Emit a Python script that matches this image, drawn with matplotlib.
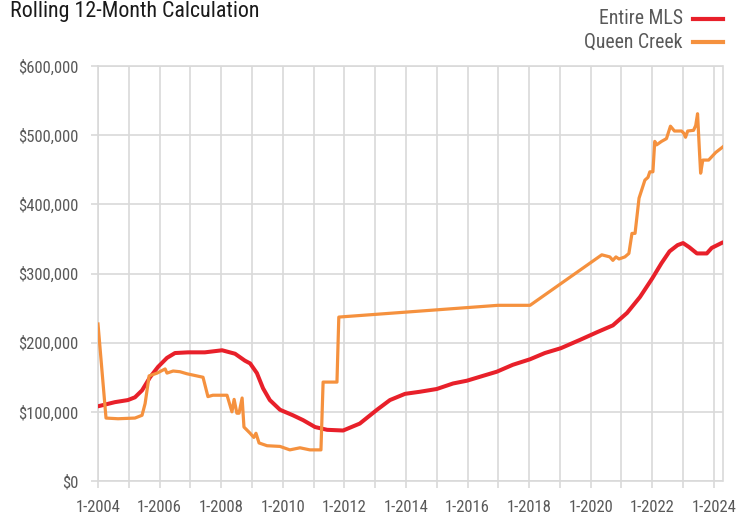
import matplotlib
matplotlib.use("Agg")
import matplotlib.pyplot as plt
from matplotlib.lines import Line2D
from matplotlib.ticker import FuncFormatter, MultipleLocator

# ---- data (x in decimal years) ----
mls_x = [2004.00, 2004.55, 2004.97, 2005.20, 2005.43, 2005.69, 2005.95, 2006.24,
         2006.50, 2006.92, 2007.47, 2008.03, 2008.45, 2008.77, 2008.94, 2009.16,
         2009.36, 2009.58, 2009.91, 2010.33, 2010.66, 2011.05, 2011.44, 2011.96,
         2012.50, 2013.06, 2013.48, 2013.97, 2014.45, 2015.00, 2015.53, 2015.98,
         2016.50, 2016.95, 2017.47, 2018.03, 2018.51, 2019.03, 2019.65, 2020.20,
         2020.72, 2021.18, 2021.60, 2022.00, 2022.30, 2022.56, 2022.82, 2023.00,
         2023.20, 2023.45, 2023.77, 2023.93, 2024.29]
mls_y = [108000, 114000, 117000, 121000, 131000, 150000, 165000, 178000,
         185000, 186000, 186000, 189000, 184000, 174000, 170000, 156000,
         134000, 117000, 103000, 95000, 88000, 78000, 74000, 73000,
         83000, 103000, 117000, 126000, 129000, 133000, 141000, 145000,
         152000, 158000, 168000, 176000, 185000, 192000, 204000, 215000,
         225000, 243000, 266000, 293000, 315000, 332000, 341000, 344000,
         338000, 329000, 329000, 337000, 345000]

qc_x = [2004.00, 2004.26, 2004.65, 2005.20, 2005.43, 2005.53, 2005.66, 2005.92,
        2006.18, 2006.24, 2006.44, 2006.66, 2006.89, 2007.41, 2007.57, 2007.73,
        2008.19, 2008.35, 2008.42, 2008.51, 2008.58, 2008.68, 2008.74, 2008.94,
        2009.06, 2009.13, 2009.23, 2009.49, 2009.91, 2010.23, 2010.56, 2010.88,
        2011.24, 2011.31, 2011.76, 2011.82, 2016.99, 2018.03, 2020.36, 2020.62,
        2020.72, 2020.82, 2020.92, 2021.11, 2021.24, 2021.34, 2021.44, 2021.57,
        2021.76, 2021.86, 2021.92, 2022.02, 2022.08, 2022.14, 2022.30, 2022.46,
        2022.59, 2022.72, 2022.95, 2023.02, 2023.08, 2023.15, 2023.34, 2023.41,
        2023.47, 2023.53, 2023.57, 2023.64, 2023.83, 2024.06, 2024.29]
qc_y = [227000, 91000, 90000, 91000, 95000, 112000, 152000, 156000,
        162000, 156000, 159000, 158000, 155000, 150000, 122000, 124000,
        124000, 100000, 118000, 98000, 98000, 120000, 78000, 69000,
        63000, 69000, 55000, 51000, 50000, 45000, 48000, 45000,
        45000, 143000, 143000, 237000, 254000, 254000, 327000, 324000,
        319000, 324000, 321000, 324000, 329000, 358000, 358000, 409000,
        435000, 439000, 447000, 447000, 491000, 486000, 491000, 495000,
        513000, 506000, 506000, 503000, 497000, 506000, 507000, 514000,
        531000, 478000, 445000, 464000, 464000, 475000, 483000]

series_labels = ["Entire MLS", "Queen Creek"]
title = "Rolling 12-Month Calculation"

RED = "#e8202a"
ORANGE = "#f5913e"
GRID = "#d9d9d9"
TXT = "#595959"

plt.rcParams['font.family'] = ['Roboto Condensed', 'Roboto', 'DejaVu Sans']

fig = plt.figure(figsize=(7.51, 5.15), dpi=100)
ax = fig.add_axes([98/751, 1-481/515, (722.5-98)/751, (481-66)/515])

ax.plot(mls_x, mls_y, color=RED, lw=2.9, solid_joinstyle='round',
        solid_capstyle='round', zorder=3)
ax.plot(qc_x, qc_y, color=ORANGE, lw=2.3, solid_joinstyle='round', zorder=4)

ax.set_xlim(2004, 2024.28)
ax.set_ylim(0, 600000)
ax.xaxis.set_major_locator(MultipleLocator(1))
ax.yaxis.set_major_locator(MultipleLocator(100000))
ax.xaxis.set_major_formatter(FuncFormatter(
    lambda v, p: f"1-{int(round(v))}" if int(round(v)) % 2 == 0 else ""))
ax.yaxis.set_major_formatter(FuncFormatter(lambda v, p: f"${int(v):,}"))
ax.grid(True, color=GRID, lw=1.2, zorder=0)
ax.set_axisbelow(True)
for s in ax.spines.values():
    s.set_color(GRID)
    s.set_linewidth(1.2)
ax.tick_params(axis='both', colors=GRID, labelcolor=TXT, labelsize=12,
               width=1.2, length=5)
ax.tick_params(axis='x', pad=8.5)
ax.tick_params(axis='y', pad=9)

fig.text(10/751, 1-12/515, title, ha='left', va='center', fontsize=15.8, color="#1a1a1a")

for i, (lab, col) in enumerate(zip(series_labels, [RED, ORANGE])):
    y = 1 - (19 + 23*i)/515
    fig.text(683/751, y, lab, ha='right', va='center', fontsize=14.2, color=TXT)
    fig.add_artist(Line2D([693/751, 723/751], [y, y], color=col, lw=3,
                          transform=fig.transFigure))

fig.savefig("out.png", dpi=100)
